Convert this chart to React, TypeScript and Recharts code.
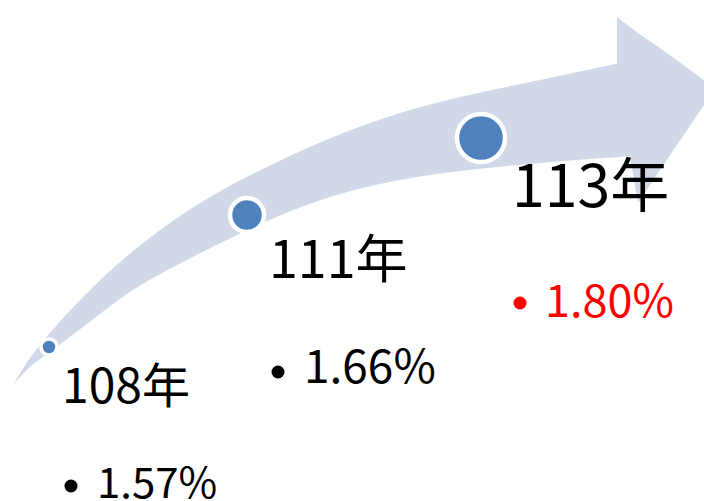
import React from 'react';
import { ComposedChart, Area, Scatter, XAxis, YAxis } from 'recharts';

// Milestones shown along the arrow
const YEARS = ['108年', '111年', '113年'];
const RATES = ['1.57%', '1.66%', '1.80%'];

// Dot anchors (in the chart's own x/y units, y grows downwards)
const DOT_X = [49, 247, 481];
const DOT_Y = [347, 215, 138];

// Curved arrow shaft, both edges sampled at the same x
const SHAFT_X = [13, 30, 50, 83, 133, 183, 233, 267, 333, 400, 460, 540, 620];
const SHAFT_TOP = [385, 358, 333, 297, 251, 214, 184, 167, 137, 113, 97, 80, 63];
const SHAFT_BOTTOM = [385, 367, 352, 327, 290, 262, 237, 221, 196, 180, 171, 163, 157];

// Arrow head
const HEAD_X = [617, 630, 638, 660, 704];
const HEAD_TOP = [17, 27, 33, 48, 80];
const HEAD_BOTTOM = [157, 156, 203, 170, 105];

// styling
const W = 704;
const H = 501;
const FONT = '"Noto Sans CJK TC", "Noto Sans", sans-serif';
const ARROW_FILL = '#D1D9E8';
const DOT_FILL = '#4F81BD';
const DOT_R = [8, 17, 24];
const YEAR_SIZE = [48, 52, 59];
const RATE_SIZE = [42, 46, 45];
const RATE_COLOR = ['#000', '#000', '#FF0000'];
// label offsets from each dot: [yearDx, yearDy, rateDx, rateDy, bulletDx, bulletDy]
const LABEL_OFFSET = [
  [13, 56, 48, 151, 22, 139],
  [22, 63, 57, 168, 31, 157],
  [31, 69, 64, 179, 39, 165],
];

const arrowData = [
  ...SHAFT_X.map((x, i) => ({ x, shaft: [SHAFT_BOTTOM[i], SHAFT_TOP[i]] })),
  ...HEAD_X.map((x, i) => ({ x, head: [HEAD_BOTTOM[i], HEAD_TOP[i]] })),
].sort((a, b) => a.x - b.x);

const dotData = DOT_X.map((x, i) => ({ x, y: DOT_Y[i], idx: i }));

const Milestone = (props: any) => {
  const { cx, cy, payload } = props;
  const i = payload.idx;
  const [ydx, ydy, rdx, rdy, bdx, bdy] = LABEL_OFFSET[i];
  return (
    <g>
      <circle cx={cx} cy={cy} r={DOT_R[i]} fill={DOT_FILL} stroke="#fff" strokeWidth={i === 0 ? 3.5 : 4.5} />
      <text x={cx + ydx} y={cy + ydy} fontSize={YEAR_SIZE[i]} fontFamily={FONT} fill="#000">
        {YEARS[i]}
      </text>
      {/* bullet marker */}
      <circle cx={cx + bdx} cy={cy + bdy} r={6.5} fill={RATE_COLOR[i]} />
      <text x={cx + rdx} y={cy + rdy} fontSize={RATE_SIZE[i]} fontFamily={FONT} fill={RATE_COLOR[i]}>
        {RATES[i]}
      </text>
    </g>
  );
};

export default function App() {
  return (
    <div style={{ position: 'absolute', left: 0, top: 0, width: W, height: H, background: '#fff', overflow: 'hidden' }}>
      <ComposedChart width={W} height={H} data={arrowData} margin={{ top: 0, right: 0, bottom: 0, left: 0 }}>
        <XAxis dataKey="x" type="number" domain={[0, W]} hide />
        <YAxis type="number" domain={[0, H]} reversed hide />
        <Area
          type="monotone"
          dataKey="shaft"
          stroke="none"
          fill={ARROW_FILL}
          fillOpacity={1}
          connectNulls
          isAnimationActive={false}
          activeDot={false}
          dot={false}
        />
        <Area
          type="linear"
          dataKey="head"
          stroke="none"
          fill={ARROW_FILL}
          fillOpacity={1}
          connectNulls
          isAnimationActive={false}
          activeDot={false}
          dot={false}
        />
        <Scatter data={dotData} dataKey="y" shape={Milestone} isAnimationActive={false} />
      </ComposedChart>
    </div>
  );
}
